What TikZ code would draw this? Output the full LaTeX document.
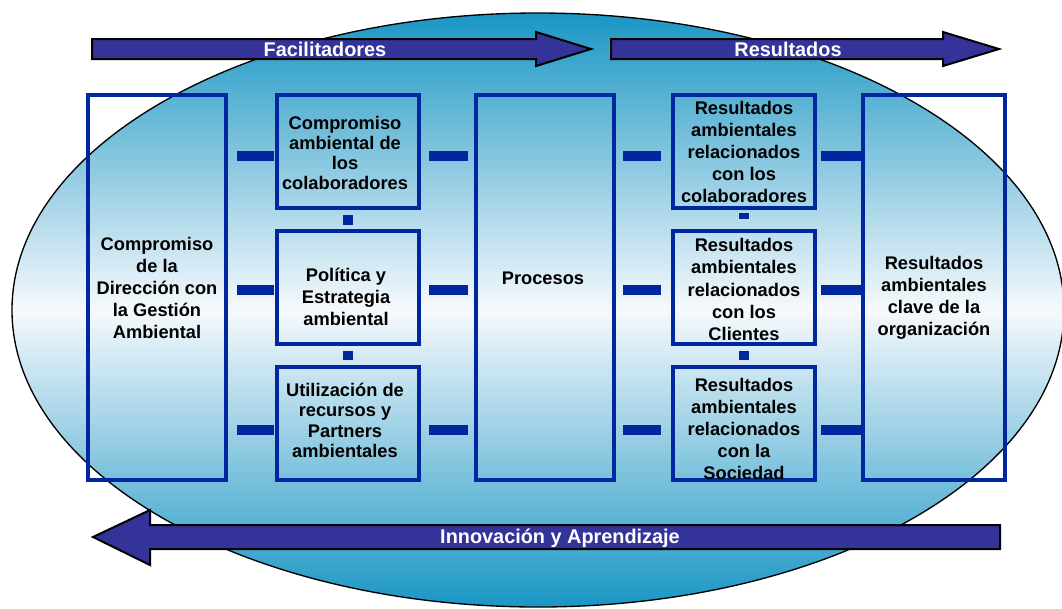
\documentclass[tikz,border=0pt]{standalone}
\usepackage{fontspec}
\setmainfont{Liberation Sans}
\usetikzlibrary{calc}
\definecolor{boxblue}{HTML}{0026A0}
\definecolor{arrowfill}{HTML}{333399}
\definecolor{tealc}{HTML}{1A96C4}
\definecolor{midc}{HTML}{F6F9FC}
\begin{document}
\begin{tikzpicture}[x=0.75pt,y=-0.75pt,
  box/.style={draw=boxblue, line width=3pt, inner sep=0pt, minimum height=113*0.75pt},
  bigbox/.style={draw=boxblue, line width=3pt, inner sep=0pt, minimum height=385*0.75pt},
  boxtext/.style={align=center, inner sep=0pt, font=\bfseries\fontsize{13.7}{16.6}\selectfont},
  bar/.style={draw=boxblue, line width=7pt},
  vbar/.style={draw=boxblue, line width=7.5pt},
  bigarrow/.style={fill=arrowfill, draw=black, line width=1.5pt, line join=miter},
  arrowtext/.style={text=white, inner sep=0pt, font=\bfseries\fontsize{14.9}{16}\selectfont}]
\useasboundingbox (0,0) rectangle (1062,608);
% background ellipse
\shadedraw[top color=tealc, bottom color=tealc, middle color=midc, draw=black, line width=1pt]
  (538,310) ellipse [x radius=526, y radius=297];
% top arrows
\path[bigarrow] (92,39) -- (536,39) -- (536,32) -- (591,49) -- (536,66) -- (536,59) -- (92,59) -- cycle;
\node[arrowtext] (fac) at (325,49) {Facilitadores};
\path[bigarrow] (611,39) -- (943,39) -- (943,32) -- (999,49) -- (943,66) -- (943,59) -- (611,59) -- cycle;
\node[arrowtext] (res) at (788,49) {Resultados};
% bottom arrow
\path[bigarrow] (1000,525) -- (150,525) -- (150,510) -- (93,537) -- (150,565) -- (150,549) -- (1000,549) -- cycle;
\node[arrowtext] (inn) at (560,538) {Innovación y Aprendizaje};
% boxes
\node[bigbox, minimum width=138*0.75pt] (b1) at (157,287.5) {};
\node[box, minimum width=142*0.75pt] (c21) at (348,151.5) {};
\node[box, minimum width=142*0.75pt] (c22) at (348,287.5) {};
\node[box, minimum width=142*0.75pt] (c23) at (348,423.5) {};
\node[bigbox, minimum width=138*0.75pt] (pr) at (545,287.5) {};
\node[box, minimum width=142*0.75pt] (c41) at (744,151.5) {};
\node[box, minimum width=142*0.75pt] (c42) at (744,287.5) {};
\node[box, minimum width=142*0.75pt] (c43) at (744,423.5) {};
\node[bigbox, minimum width=142*0.75pt] (b5) at (934,287.5) {};
% texts
\node[boxtext] (t1) at (157,288) {Compromiso\\de la\\Dirección con\\la Gestión\\Ambiental};
\node[boxtext, font=\bfseries\fontsize{13.7}{15}\selectfont] (t21) at (345,153) {Compromiso\\ambiental de\\los\\colaboradores};
\node[boxtext] (t22) at (346,297) {Política y\\Estrategia\\ambiental};
\node[boxtext, font=\bfseries\fontsize{13.7}{15.3}\selectfont] (t23) at (345,420.5) {Utilización de\\recursos y\\Partners\\ambientales};
\node[boxtext] (tp) at (543,278) {Procesos};
\node[boxtext] (t41) at (744,152) {Resultados\\ambientales\\relacionados\\con los\\colaboradores};
\node[boxtext] (t42) at (744,289.5) {Resultados\\ambientales\\relacionados\\con los\\Clientes};
\node[boxtext] (t43) at (744,429) {Resultados\\ambientales\\relacionados\\con la\\Sociedad};
\node[boxtext] (t5) at (934,298) {Resultados\\ambientales\\clave de la\\organización};
% horizontal connectors
\foreach \r/\dy in {c21/4.5, c22/2.5, c23/6.5} {
  \draw[bar] ($(b1.east|-\r.west)+(9,\dy)$) -- ($(\r.west)+(-1,\dy)$);
  \draw[bar] ($(\r.east)+(8,\dy)$) -- ($(pr.west|-\r.west)+(-6,\dy)$);
}
\foreach \r/\dy in {c41/4.5, c42/2.5, c43/6.5} {
  \draw[bar] ($(pr.east|-\r.west)+(7,\dy)$) -- ($(\r.west)+(-10,\dy)$);
  \draw[bar] ($(\r.east)+(4,\dy)$) -- ($(b5.west|-\r.west)+(0,\dy)$);
}
% vertical connectors
\draw[vbar] ($(c21.south)+(0,5)$) -- ($(c22.north)+(0,-4)$);
\draw[vbar] ($(c22.south)+(0,5)$) -- ($(c23.north)+(0,-5)$);
\draw[vbar] ($(c41.south)+(0,3)$) -- ($(c42.north)+(0,-10)$);
\draw[vbar] ($(c42.south)+(0,5)$) -- ($(c43.north)+(0,-5)$);
\end{tikzpicture}
\end{document}
